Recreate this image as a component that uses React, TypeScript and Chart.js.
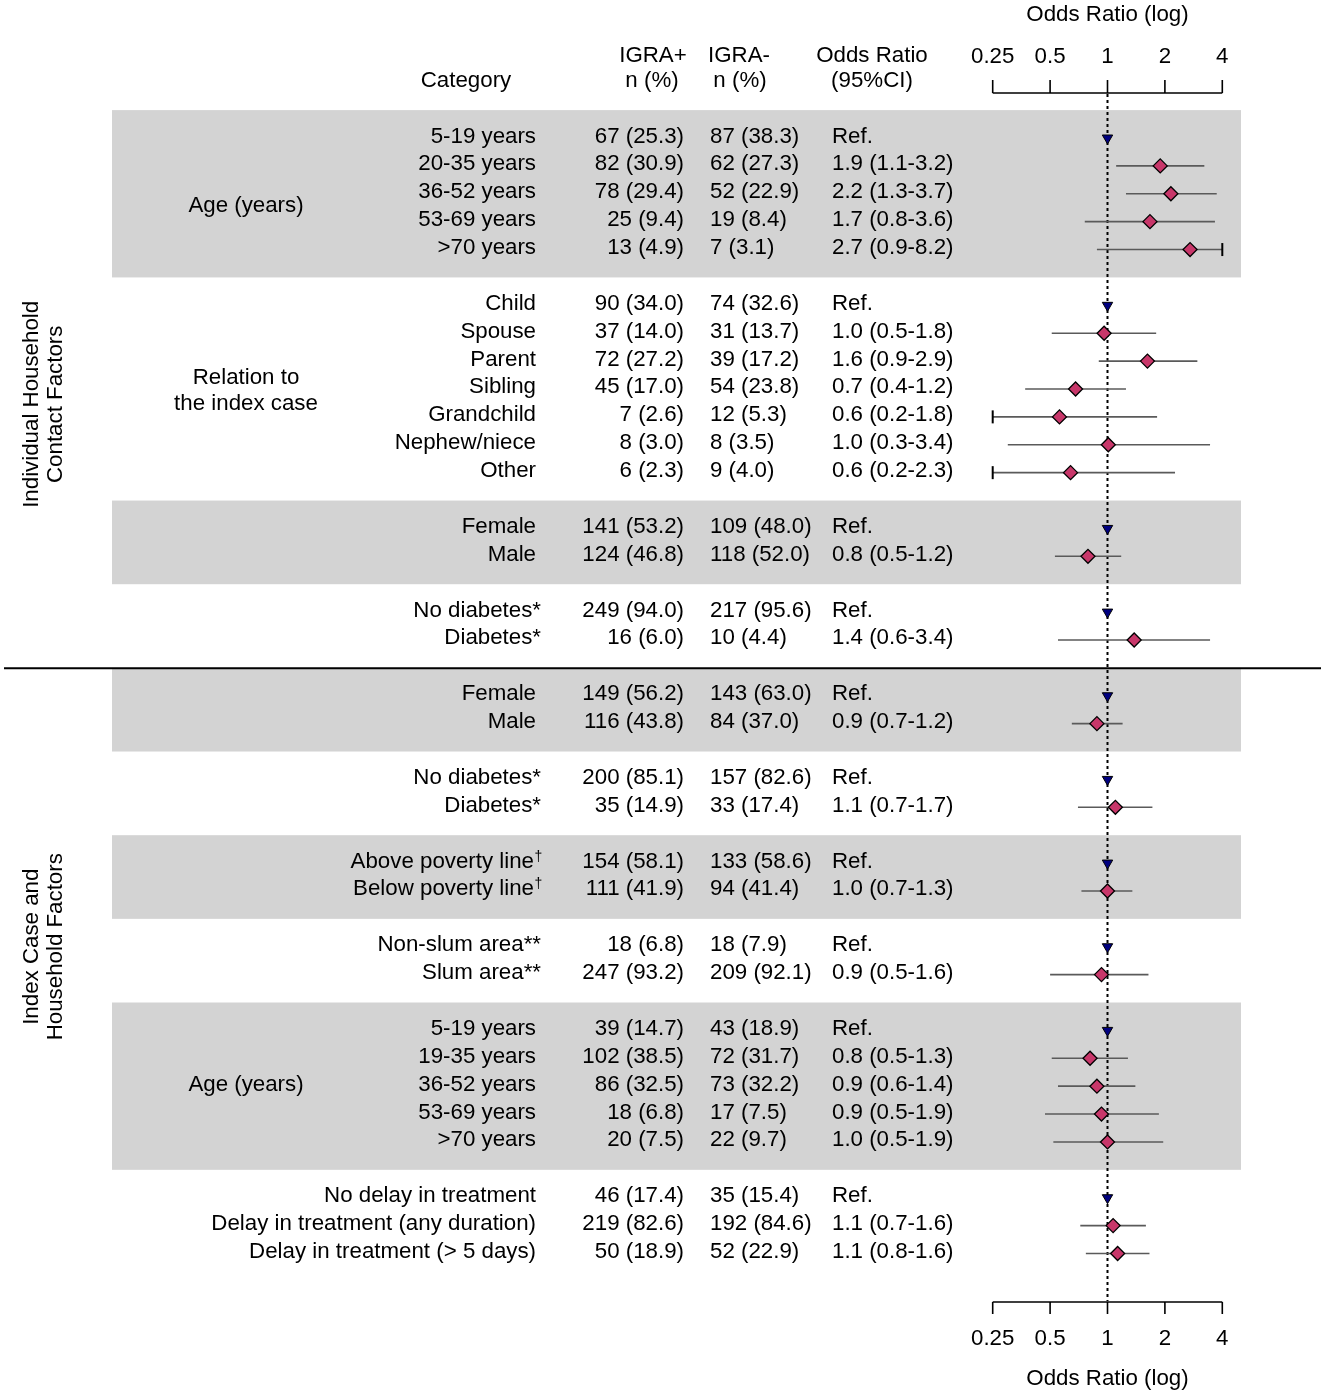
import React, { useEffect, useRef } from "react";
import { Chart, registerables } from "chart.js";

Chart.register(...registerables);

// ---------------- DATA ----------------
const sectionNames = ["Individual Household\nContact Factors", "Index Case and\nHousehold Factors"];
const sectionGroupCount = [4, 6];

const groupNames = [
  "Age (years)",
  "Relation to\nthe index case",
  "",
  "",
  "",
  "",
  "",
  "",
  "Age (years)",
  "",
];
const groupSizes = [5, 7, 2, 2, 2, 2, 2, 2, 5, 3];

const categories = [
  "5-19 years", "20-35 years", "36-52 years", "53-69 years", ">70 years",
  "Child", "Spouse", "Parent", "Sibling", "Grandchild", "Nephew/niece", "Other",
  "Female", "Male",
  "No diabetes*", "Diabetes*",
  "Female", "Male",
  "No diabetes*", "Diabetes*",
  "Above poverty line†", "Below poverty line†",
  "Non-slum area**", "Slum area**",
  "5-19 years", "19-35 years", "36-52 years", "53-69 years", ">70 years",
  "No delay in treatment", "Delay in treatment (any duration)", "Delay in treatment (> 5 days)",
];

const igraPos = [
  "67 (25.3)", "82 (30.9)", "78 (29.4)", "25 (9.4)", "13 (4.9)",
  "90 (34.0)", "37 (14.0)", "72 (27.2)", "45 (17.0)", "7 (2.6)", "8 (3.0)", "6 (2.3)",
  "141 (53.2)", "124 (46.8)",
  "249 (94.0)", "16 (6.0)",
  "149 (56.2)", "116 (43.8)",
  "200 (85.1)", "35 (14.9)",
  "154 (58.1)", "111 (41.9)",
  "18 (6.8)", "247 (93.2)",
  "39 (14.7)", "102 (38.5)", "86 (32.5)", "18 (6.8)", "20 (7.5)",
  "46 (17.4)", "219 (82.6)", "50 (18.9)",
];

const igraNeg = [
  "87 (38.3)", "62 (27.3)", "52 (22.9)", "19 (8.4)", "7 (3.1)",
  "74 (32.6)", "31 (13.7)", "39 (17.2)", "54 (23.8)", "12 (5.3)", "8 (3.5)", "9 (4.0)",
  "109 (48.0)", "118 (52.0)",
  "217 (95.6)", "10 (4.4)",
  "143 (63.0)", "84 (37.0)",
  "157 (82.6)", "33 (17.4)",
  "133 (58.6)", "94 (41.4)",
  "18 (7.9)", "209 (92.1)",
  "43 (18.9)", "72 (31.7)", "73 (32.2)", "17 (7.5)", "22 (9.7)",
  "35 (15.4)", "192 (84.6)", "52 (22.9)",
];

const orText = [
  "Ref.", "1.9 (1.1-3.2)", "2.2 (1.3-3.7)", "1.7 (0.8-3.6)", "2.7 (0.9-8.2)",
  "Ref.", "1.0 (0.5-1.8)", "1.6 (0.9-2.9)", "0.7 (0.4-1.2)", "0.6 (0.2-1.8)", "1.0 (0.3-3.4)", "0.6 (0.2-2.3)",
  "Ref.", "0.8 (0.5-1.2)",
  "Ref.", "1.4 (0.6-3.4)",
  "Ref.", "0.9 (0.7-1.2)",
  "Ref.", "1.1 (0.7-1.7)",
  "Ref.", "1.0 (0.7-1.3)",
  "Ref.", "0.9 (0.5-1.6)",
  "Ref.", "0.8 (0.5-1.3)", "0.9 (0.6-1.4)", "0.9 (0.5-1.9)", "1.0 (0.5-1.9)",
  "Ref.", "1.1 (0.7-1.6)", "1.1 (0.8-1.6)",
];

// point estimates / CI (null = reference category)
const orPoint: (number | null)[] = [
  null, 1.89, 2.15, 1.67, 2.71,
  null, 0.96, 1.62, 0.68, 0.56, 1.01, 0.64,
  null, 0.79,
  null, 1.38,
  null, 0.88,
  null, 1.1,
  null, 1.0,
  null, 0.93,
  null, 0.81, 0.88, 0.93, 1.0,
  null, 1.07, 1.13,
];
const orLow: (number | null)[] = [
  null, 1.11, 1.25, 0.76, 0.88,
  null, 0.51, 0.9, 0.37, 0.2, 0.3, 0.2,
  null, 0.53,
  null, 0.55,
  null, 0.65,
  null, 0.7,
  null, 0.73,
  null, 0.5,
  null, 0.51, 0.55, 0.47, 0.52,
  null, 0.72, 0.77,
];
const orHigh: (number | null)[] = [
  null, 3.22, 3.74, 3.66, 8.2,
  null, 1.8, 2.96, 1.25, 1.82, 3.45, 2.26,
  null, 1.18,
  null, 3.45,
  null, 1.2,
  null, 1.72,
  null, 1.35,
  null, 1.64,
  null, 1.28, 1.4, 1.86, 1.96,
  null, 1.59, 1.66,
];

const xTicks = [0.25, 0.5, 1, 2, 4];
const xTickLabels = ["0.25", "0.5", "1", "2", "4"];
const axisTitle = "Odds Ratio (log)";
const headerCategory = "Category";
const headerPos = ["IGRA+", "n (%)"];
const headerNeg = ["IGRA-", "n (%)"];
const headerOR = ["Odds Ratio", "(95%CI)"];

// ---------------- LAYOUT ----------------
const W = 1325;
const H = 1393;
const XMIN = 0.25;
const XMAX = 4;
const FONT = '"Liberation Sans", Arial, Helvetica, sans-serif';
const FS = 22.3;
const BAND_L = 112;
const BAND_R = 1241;
const CAT_RIGHT = 536;
const CAT_RIGHT_STAR = 541;
const CAT_RIGHT_SUP = 534;
const POS_RIGHT = 684;
const NEG_LEFT = 710;
const OR_LEFT = 832;
const GROUP_CX = 246;
const BASE_SHIFT = 4.5; // text baseline below marker row
const GROUP_LABEL_NUDGE = [0.5, 0.12, 0, 0, 0, 0, 0, 0, 0, 0];
const SECTION_ROW = [9.55, 29.0];

// derive row indices (one blank row between groups)
const rows: number[] = [];
const groupRanges: { first: number; last: number }[] = [];
{
  let r = 0;
  groupSizes.forEach((n) => {
    const first = r;
    for (let i = 0; i < n; i++) rows.push(r++);
    groupRanges.push({ first, last: r - 1 });
    r++;
  });
}
const dividerRow = groupRanges[sectionGroupCount[0] - 1].last + 1;

const ciDatasets: any[] = [];
rows.forEach((row, i) => {
  const lo = orLow[i];
  const hi = orHigh[i];
  if (lo == null || hi == null) return;
  ciDatasets.push({
    type: "line",
    data: [
      { x: Math.max(lo, XMIN), y: row },
      { x: Math.min(hi, XMAX), y: row },
    ],
    borderColor: "#5a5a5a",
    borderWidth: 1.6,
    fill: false,
    tension: 0,
    pointStyle: "line",
    pointRotation: 90,
    pointRadius: [lo < XMIN ? 6.5 : 0, hi > XMAX ? 6.5 : 0],
    pointHoverRadius: 0,
    pointBorderColor: "#000",
    pointBorderWidth: 2,
    clip: false,
    order: 3,
  });
});

const refPoints = rows
  .map((row, i) => (orPoint[i] == null ? { x: 1, y: row } : null))
  .filter(Boolean);
const estPoints = rows
  .map((row, i) => (orPoint[i] != null ? { x: orPoint[i] as number, y: row } : null))
  .filter(Boolean);

const forestPlugin = {
  id: "forestDecor",
  beforeDatasetsDraw(chart: any) {
    const ctx = chart.ctx as CanvasRenderingContext2D;
    const ys = chart.scales.y;
    const xs = chart.scales.x;
    ctx.save();
    // shaded bands
    ctx.fillStyle = "#d3d3d3";
    groupRanges.forEach((g, gi) => {
      if (gi % 2 !== 0) return;
      const t = ys.getPixelForValue(g.first - 1);
      const b = ys.getPixelForValue(g.last + 1);
      ctx.fillRect(BAND_L, t, BAND_R - BAND_L, b - t);
    });
    // dotted reference line
    const x1 = xs.getPixelForValue(1);
    ctx.strokeStyle = "#000";
    ctx.lineWidth = 2;
    ctx.setLineDash([3, 3]);
    ctx.beginPath();
    ctx.moveTo(x1, 94);
    ctx.lineTo(x1, 1301);
    ctx.stroke();
    ctx.setLineDash([]);
    ctx.restore();
  },
  afterDatasetsDraw(chart: any) {
    const ctx = chart.ctx as CanvasRenderingContext2D;
    const ys = chart.scales.y;
    const xs = chart.scales.x;
    ctx.save();
    ctx.fillStyle = "#000";
    ctx.textBaseline = "alphabetic";
    const font = (s: number) => `${s}px ${FONT}`;
    ctx.font = font(FS);
    const put = (s: string, x: number, y: number, a: CanvasTextAlign) => {
      ctx.textAlign = a;
      ctx.fillText(s, x, y);
    };

    // row texts
    rows.forEach((row, i) => {
      const yb = ys.getPixelForValue(row) + BASE_SHIFT;
      const lab = categories[i];
      ctx.font = font(FS);
      if (lab.endsWith("†")) {
        const main = lab.slice(0, -1);
        put(main, CAT_RIGHT_SUP, yb, "right");
        ctx.font = font(14);
        put("†", CAT_RIGHT_SUP + 0.5, yb - 7, "left");
        ctx.font = font(FS);
      } else if (lab.endsWith("*")) {
        put(lab, CAT_RIGHT_STAR, yb, "right");
      } else {
        put(lab, CAT_RIGHT, yb, "right");
      }
      put(igraPos[i], POS_RIGHT, yb, "right");
      put(igraNeg[i], NEG_LEFT, yb, "left");
      put(orText[i], OR_LEFT, yb, "left");
    });

    // group labels
    groupRanges.forEach((g, gi) => {
      const name = groupNames[gi];
      if (!name) return;
      const lines = name.split("\n");
      const c = ys.getPixelForValue((g.first + g.last) / 2 + GROUP_LABEL_NUDGE[gi]) + BASE_SHIFT;
      const lh = 26;
      lines.forEach((ln, k) => {
        put(ln, GROUP_CX, c + (k - (lines.length - 1) / 2) * lh, "center");
      });
    });

    // section labels (rotated)
    sectionNames.forEach((name, si) => {
      const cy = ys.getPixelForValue(SECTION_ROW[si]);
      const lines = name.split("\n");
      const bx = [38, 62];
      lines.forEach((ln, k) => {
        ctx.save();
        ctx.translate(bx[k], cy);
        ctx.rotate(-Math.PI / 2);
        ctx.textAlign = "center";
        ctx.fillText(ln, 0, 0);
        ctx.restore();
      });
    });

    // divider line
    const dy = ys.getPixelForValue(dividerRow) + 0.5;
    ctx.strokeStyle = "#000";
    ctx.lineWidth = 2;
    ctx.beginPath();
    ctx.moveTo(4, dy);
    ctx.lineTo(1321, dy);
    ctx.stroke();

    // headers
    put(headerCategory, 466, 87, "center");
    put(headerPos[0], 653, 61.5, "center");
    put(headerPos[1], 652, 87, "center");
    put(headerNeg[0], 739, 61.5, "center");
    put(headerNeg[1], 740, 87, "center");
    put(headerOR[0], 872, 61.5, "center");
    put(headerOR[1], 872, 87, "center");

    // axes (top and bottom)
    const xl = xs.getPixelForValue(XMIN);
    const xr = xs.getPixelForValue(XMAX);
    ctx.lineWidth = 1.6;
    const drawAxis = (yLine: number, yTickEnd: number, yLab: number, yTitle: number) => {
      ctx.beginPath();
      ctx.moveTo(xl, yLine);
      ctx.lineTo(xr, yLine);
      xTicks.forEach((t) => {
        const px = xs.getPixelForValue(t);
        ctx.moveTo(px, yLine);
        ctx.lineTo(px, yTickEnd);
      });
      ctx.stroke();
      xTicks.forEach((t, k) => put(xTickLabels[k], xs.getPixelForValue(t), yLab, "center"));
      put(axisTitle, xs.getPixelForValue(1), yTitle, "center");
    };
    drawAxis(93, 80, 62.5, 20.5);
    drawAxis(1302, 1314, 1344.5, 1384.5);

    ctx.restore();
  },
};

export default function App() {
  const ref = useRef<HTMLCanvasElement>(null);
  useEffect(() => {
    if (!ref.current) return;
    const chart = new Chart(ref.current, {
      type: "scatter",
      data: {
        datasets: [
          {
            type: "scatter",
            label: "Estimate",
            data: estPoints as any,
            pointStyle: "rectRot",
            pointRadius: 7,
            pointHoverRadius: 7,
            backgroundColor: "#c8376a",
            borderColor: "#000",
            borderWidth: 1.3,
            clip: false,
            order: 0,
          } as any,
          {
            type: "scatter",
            label: "Reference",
            data: refPoints as any,
            pointStyle: "triangle",
            rotation: 180,
            pointRadius: 6,
            pointHoverRadius: 6,
            backgroundColor: "#000080",
            borderColor: "#000",
            borderWidth: 1,
            clip: false,
            order: 1,
          } as any,
          ...ciDatasets,
        ],
      },
      options: {
        responsive: false,
        maintainAspectRatio: false,
        animation: false,
        devicePixelRatio: 1,
        events: [],
        layout: {
          padding: { left: 992.7, right: W - 1222.3, top: 96.17, bottom: H - 1295.33 },
        },
        scales: {
          x: { type: "logarithmic", min: XMIN, max: XMAX, display: false },
          y: { type: "linear", min: -1.5, max: 41.5, reverse: true, display: false },
        },
        plugins: {
          legend: { display: false },
          tooltip: { enabled: false },
        },
      },
      plugins: [forestPlugin],
    } as any);
    return () => chart.destroy();
  }, []);
  return (
    <div style={{ position: "absolute", left: 0, top: 0, width: W, height: H, background: "#fff" }}>
      <canvas ref={ref} width={W} height={H} style={{ display: "block", width: W, height: H }} />
    </div>
  );
}
